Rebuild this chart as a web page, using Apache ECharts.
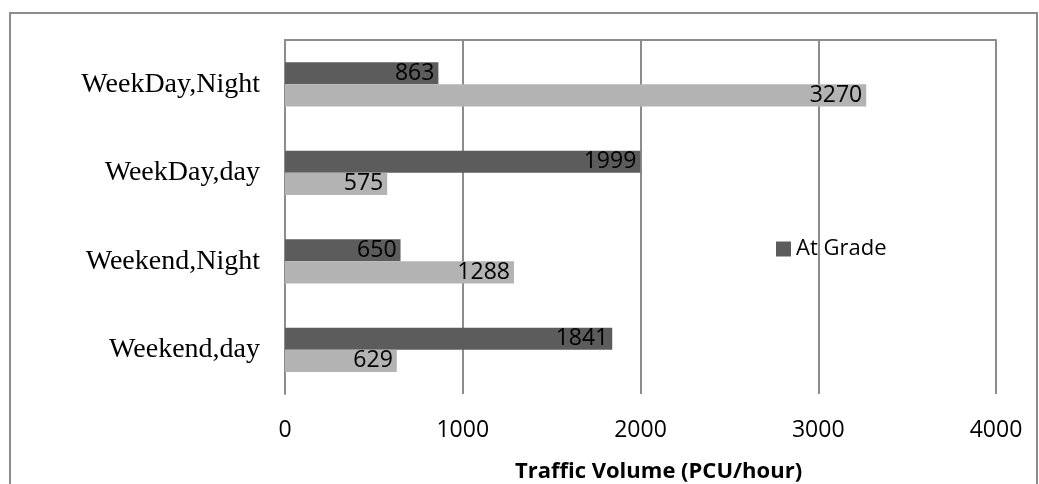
<!DOCTYPE html>
<html>
<head>
<meta charset="utf-8">
<script src="https://cdn.jsdelivr.net/npm/echarts@6/dist/echarts.min.js"></script>
<style>
  html, body { margin: 0; padding: 0; background: #ffffff; }
  #chart { width: 1039px; height: 484px; }
</style>
</head>
<body>
<div id="chart"></div>
<script>
// Periods, listed bottom to top along the category axis
const periods = ['Weekend,day', 'Weekend,Night', 'WeekDay,day', 'WeekDay,Night'];
// Traffic volume (PCU/hour) for each period
const atGrade = [1841, 650, 1999, 863];
const otherLevel = [629, 1288, 575, 3270];
const valueTicks = [0, 1000, 2000, 3000, 4000];

const sansFont = '"Open Sans", "Liberation Sans", sans-serif';
const serifFont = '"Liberation Serif", "DejaVu Serif", serif';
const lineGray = '#8c8c8c';

const chart = echarts.init(document.getElementById('chart'));

const labelStyle = {
  show: true,
  position: 'insideRight',
  color: '#000000',
  fontFamily: sansFont,
  fontSize: 23,
  distance: 4
};

chart.setOption({
  animation: false,
  backgroundColor: '#ffffff',
  graphic: [{
    type: 'rect',
    shape: { x: 10, y: 13, width: 1027, height: 500 },
    style: { fill: 'none', stroke: lineGray, lineWidth: 2 },
    silent: true
  }],
  grid: {
    left: 285, right: 43, top: 40, bottom: 90,
    containLabel: false,
    outerBoundsMode: 'none'
  },
  legend: {
    data: ['At Grade'],
    left: 771,
    top: 233,
    itemWidth: 15,
    itemHeight: 15,
    itemGap: 8,
    icon: 'rect',
    textStyle: { color: '#000000', fontFamily: sansFont, fontSize: 22 }
  },
  xAxis: [{
    type: 'value',
    min: valueTicks[0],
    max: valueTicks[valueTicks.length - 1],
    interval: valueTicks[1] - valueTicks[0],
    axisLine: { show: false },
    axisTick: { show: false },
    splitLine: { show: true, lineStyle: { color: lineGray, width: 2 } },
    axisLabel: {
      color: '#000000', fontFamily: sansFont, fontSize: 23, margin: 25,
      formatter: (v) => String(v)
    },
    name: 'Traffic Volume (PCU/hour)',
    nameLocation: 'middle',
    nameGap: 67,
    nameTextStyle: {
      color: '#000000', fontFamily: sansFont, fontSize: 22, fontWeight: 'bold',
      padding: [0, 0, 0, 36]
    }
  }, {
    type: 'value',
    position: 'top',
    min: valueTicks[0],
    max: valueTicks[valueTicks.length - 1],
    axisLine: { show: true, lineStyle: { color: lineGray, width: 2 } },
    axisTick: { show: false },
    axisLabel: { show: false },
    splitLine: { show: false }
  }],
  yAxis: {
    type: 'category',
    data: periods,
    axisLine: { show: true, lineStyle: { color: lineGray, width: 2 } },
    axisTick: { show: false },
    axisLabel: { color: '#000000', fontFamily: serifFont, fontSize: 28, margin: 25 }
  },
  series: [{
    name: 'At Grade',
    type: 'bar',
    data: atGrade,
    barWidth: '25%',
    barGap: '0%',
    itemStyle: { color: '#5c5c5c' },
    label: labelStyle
  }, {
    name: 'Grade Separated',
    type: 'bar',
    data: otherLevel,
    barWidth: '25%',
    barGap: '0%',
    itemStyle: { color: '#b3b3b3' },
    label: labelStyle
  }]
});
</script>
</body>
</html>
